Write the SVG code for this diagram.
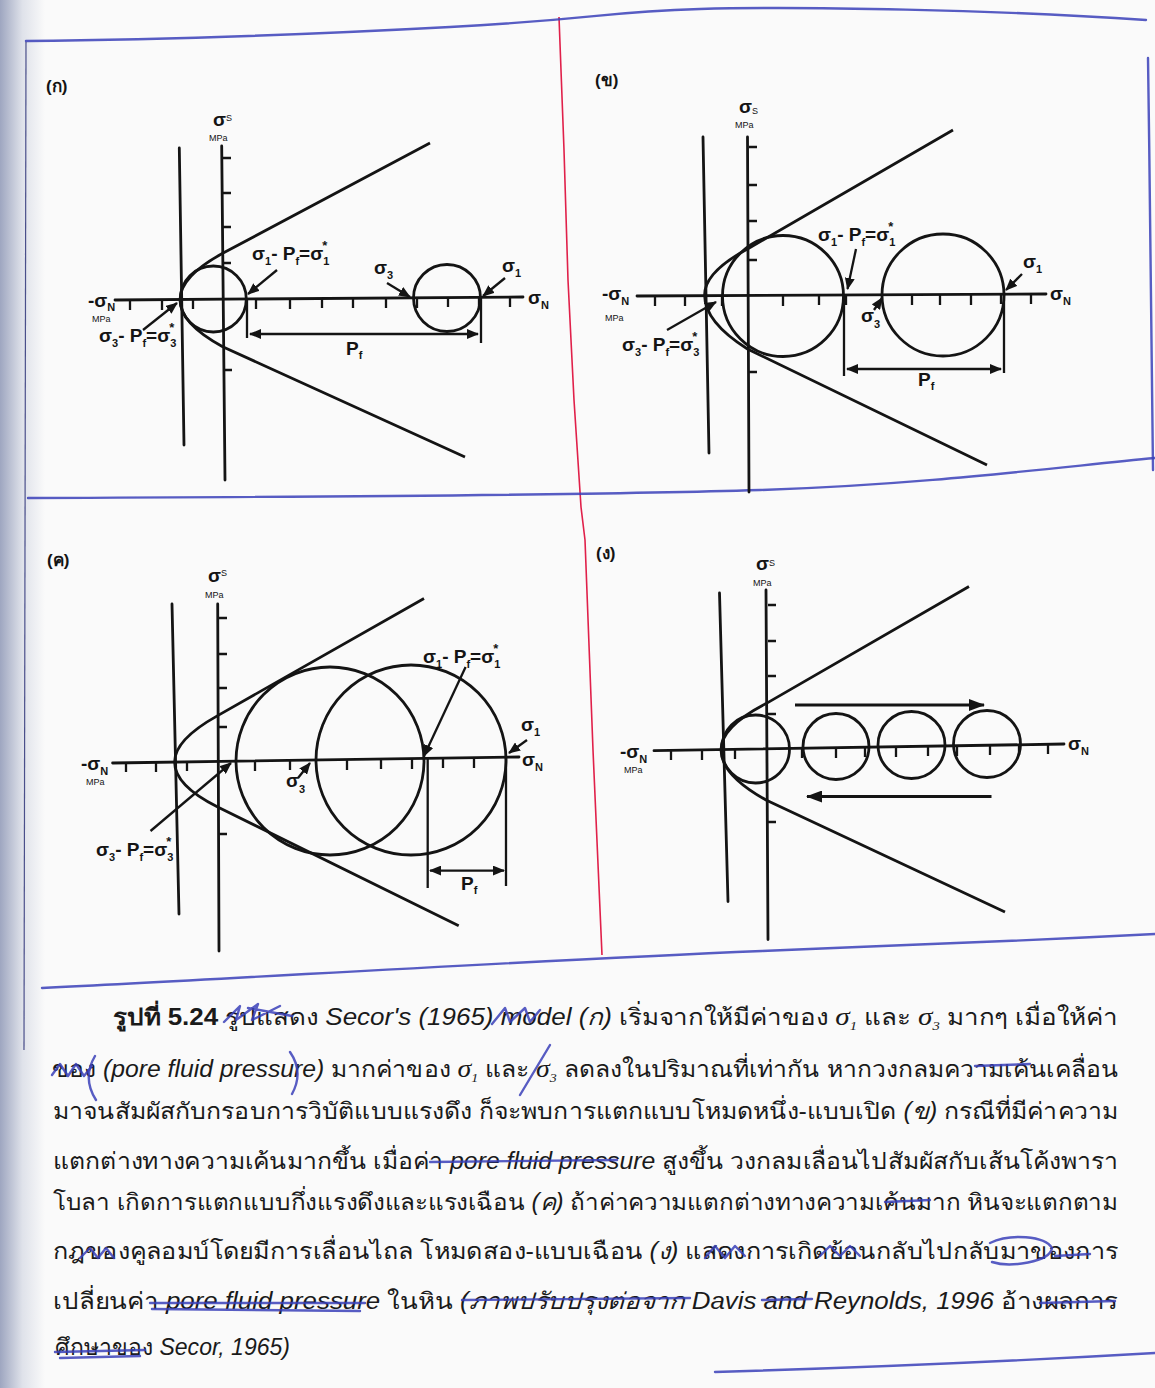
<svg xmlns="http://www.w3.org/2000/svg" width="1155" height="1388" viewBox="0 0 1155 1388">
<defs>
<linearGradient id="edge" x1="0" y1="0" x2="1" y2="0">
<stop offset="0" stop-color="#9ea6c0"/><stop offset="0.5" stop-color="#dfe2ea"/><stop offset="1" stop-color="#fafafa"/>
</linearGradient>
<marker id="ah" viewBox="0 0 12 10" refX="11" refY="5" markerWidth="12" markerHeight="10" markerUnits="userSpaceOnUse" orient="auto-start-reverse"><path d="M0,0 L12,5 L0,10 z" fill="#141414"/></marker>
<marker id="ahb" viewBox="0 0 16 12" refX="15" refY="6" markerWidth="16" markerHeight="12" markerUnits="userSpaceOnUse" orient="auto-start-reverse"><path d="M0,0 L16,6 L0,12 z" fill="#141414"/></marker>
<style>
.ax{stroke:#141414;stroke-width:2.8;fill:none;stroke-linecap:round}
.tk{stroke:#141414;stroke-width:2.3;fill:none}
.c{fill:none;stroke:#141414;stroke-width:2.8}
.ar{stroke:#141414;stroke-width:2.3;fill:none;marker-end:url(#ah)}
.arb{stroke:#141414;stroke-width:2.8;fill:none;marker-end:url(#ahb)}
.dim{stroke:#141414;stroke-width:2.3;fill:none;marker-start:url(#ah);marker-end:url(#ah)}
.s{font-family:"Liberation Sans",Arial,sans-serif;font-weight:bold;font-size:19px;fill:#141414}
.sb{font-size:11px}
.st{font-size:13px}
.mpa{font-family:"Liberation Sans",Arial,sans-serif;font-size:9px;fill:#141414}
.pl{font-family:"Liberation Sans",Arial,sans-serif;font-weight:bold;font-size:17px;fill:#141414}
.cap{font-family:"Liberation Sans","Noto Sans",sans-serif;font-size:23px;fill:#1a1a1a}
.it{font-style:italic}
.gs{font-family:"Liberation Serif",serif;font-style:italic;font-size:26px}
.gsub{font-family:"Liberation Serif",serif;font-style:italic;font-size:13px}
.blue{stroke:#3a40b8;fill:none;stroke-width:2.4;stroke-linecap:round;stroke-linejoin:round;opacity:0.85}
.red{stroke:#e0204a;stroke-width:1.6;fill:none}
</style>
</defs>
<rect width="1155" height="1388" fill="#fafafa"/>
<rect width="45" height="1388" fill="url(#edge)"/>

<g id="pen-marks">
<path class="red" d="M559,17 L564,150 L568,280 L574,400 L581,507 L585,540 L593,750 L602,955"/>
<path class="blue" d="M26,41 C150,40 300,35 450,27 S600,12 700,9 S1000,10 1146,20"/>
<path class="blue" d="M1148,58 C1150,200 1152,350 1153,470"/>
<path class="blue" d="M28,498 C300,497 600,495 760,490 S1050,468 1155,458"/>
<path class="blue" d="M42,988 C250,978 500,962 762,951 S1000,942 1155,934"/>
<path class="blue" d="M715,1372 C850,1368 1000,1362 1155,1353"/>
<path d="M26,42 L24,1050" stroke="#4a4f8a" stroke-width="1.2" fill="none"/>
</g>

<g id="panel-a">
<text class="pl" x="46" y="92">(ก)</text>
<path class="ax" d="M179.3,148 L184,445"/>
<path class="ax" d="M221.7,146 L225,480"/>
<path class="ax" d="M115,300 L523,297"/>
<path class="tk" d="M130,300v10 M162,300v10 M193,299v10 M256,299v10 M290,299v10 M322,298v10 M353,298v10 M386,298v10 M417,298v10 M448,297v10 M479,297v10 M510,297v10"/>
<path class="tk" d="M223,158h8 M223,193h8 M223,227h8 M223,263h8 M224,370h8"/>
<circle class="c" cx="213.3" cy="299" r="33"/>
<circle class="c" cx="447" cy="298" r="33.5"/>
<path class="c" d="M430,143 L222.7,253.3 Q180,276.5 180,300 Q180,323.5 222.7,346.7 L465,457"/>
<path class="ar" d="M277,270 L248,294"/>
<path class="ar" d="M505,278 L483,296"/>
<path class="ar" d="M387,283 L410,297"/>
<path class="ar" d="M143,330 L177,303"/>
<path class="tk" d="M247,300 V338 M481,297 V343"/>
<path class="dim" d="M250,334 L478,334"/>
<text class="s" x="213" y="126">σ</text><text class="mpa" x="226" y="121">S</text><text class="mpa" x="209" y="141">MPa</text>
<text class="s" x="88" y="307">-σ<tspan class="sb" dy="4">N</tspan></text><text class="mpa" x="92" y="322">MPa</text>
<text class="s" x="528" y="304">σ<tspan class="sb" dy="5">N</tspan></text>
<text class="s" x="252" y="260">σ<tspan class="sb" dy="5">1</tspan><tspan dy="-5">- P</tspan><tspan class="sb" dy="5">f</tspan><tspan dy="-5">=σ</tspan><tspan class="sb" dy="5">1</tspan><tspan class="st" dx="-7" dy="-15">*</tspan></text>
<text class="s" x="502" y="272">σ<tspan class="sb" dy="5">1</tspan></text>
<text class="s" x="374" y="274">σ<tspan class="sb" dy="5">3</tspan></text>
<text class="s" x="99" y="342">σ<tspan class="sb" dy="5">3</tspan><tspan dy="-5">- P</tspan><tspan class="sb" dy="5">f</tspan><tspan dy="-5">=σ</tspan><tspan class="sb" dy="5">3</tspan><tspan class="st" dx="-7" dy="-15">*</tspan></text>
<text class="s" x="346" y="355">P<tspan class="sb" dy="4">f</tspan></text>
</g>

<g id="panel-b">
<text class="pl" x="595" y="86">(ข)</text>
<path class="ax" d="M703,137 L709,453"/>
<path class="ax" d="M747.5,137 L749,492"/>
<path class="ax" d="M637,296 L1046,294"/>
<path class="tk" d="M655,296v10 M685,296v10 M722,296v10 M783,296v10 M819,295v10 M846,295v10 M912,295v10 M940,295v10 M971,295v10 M1001,294v10 M1031,294v10"/>
<path class="tk" d="M749,147h8 M749,185h8 M749,221h8 M749,260h8 M749,372h8"/>
<circle class="c" cx="783" cy="296" r="60.5"/>
<circle class="c" cx="943" cy="295" r="61"/>
<path class="c" d="M953,130 L747.5,249 Q704.6,272 704.6,295 Q704.6,322 747.5,349 L987,465"/>
<path class="ar" d="M856,249 L847.5,289"/>
<path class="ar" d="M1022,274 L1006,290"/>
<path class="ar" d="M874,310 L882,298"/>
<path class="ar" d="M667,330 L716,302"/>
<path class="tk" d="M844,296 V376 M1004,295 V373"/>
<path class="dim" d="M847,369 L1001,369"/>
<text class="s" x="739" y="113">σ</text><text class="mpa" x="752" y="114">S</text><text class="mpa" x="735" y="128">MPa</text>
<text class="s" x="602" y="300">-σ<tspan class="sb" dy="5">N</tspan></text><text class="mpa" x="605" y="321">MPa</text>
<text class="s" x="1050" y="300">σ<tspan class="sb" dy="5">N</tspan></text>
<text class="s" x="818" y="241">σ<tspan class="sb" dy="5">1</tspan><tspan dy="-5">- P</tspan><tspan class="sb" dy="5">f</tspan><tspan dy="-5">=σ</tspan><tspan class="sb" dy="5">1</tspan><tspan class="st" dx="-7" dy="-15">*</tspan></text>
<text class="s" x="1023" y="268">σ<tspan class="sb" dy="5">1</tspan></text>
<text class="s" x="861" y="322">σ<tspan class="sb" dy="6">3</tspan></text>
<text class="s" x="622" y="351">σ<tspan class="sb" dy="5">3</tspan><tspan dy="-5">- P</tspan><tspan class="sb" dy="5">f</tspan><tspan dy="-5">=σ</tspan><tspan class="sb" dy="5">3</tspan><tspan class="st" dx="-7" dy="-15">*</tspan></text>
<text class="s" x="918" y="386">P<tspan class="sb" dy="4">f</tspan></text>
</g>

<g id="panel-c">
<text class="pl" x="47" y="566">(ค)</text>
<path class="ax" d="M172,604 L179,914"/>
<path class="ax" d="M217.7,604 L219,951"/>
<path class="ax" d="M112.6,763 L519,757"/>
<path class="tk" d="M126,762v10 M156,762v10 M187,761v10 M255,761v10 M290,760v10 M347,760v10 M381,759v10 M412,759v10 M443,758v10 M474,758v10"/>
<path class="tk" d="M219,618h8 M219,654h8 M219,688h8 M219,727h8 M219,834h8"/>
<circle class="c" cx="330" cy="761" r="94"/>
<circle class="c" cx="411" cy="760" r="95"/>
<path class="c" d="M424,598.5 L217.7,715.6 Q174.6,739.6 174.6,762 Q174.6,785.5 217.7,807 L458.7,925.7"/>
<path class="ar" d="M465.6,667 L424,756"/>
<path class="ar" d="M527,740 L509,753"/>
<path class="ar" d="M298,778 L310,763"/>
<path class="ar" d="M150.5,831 L231,763"/>
<path class="tk" d="M427.7,759 V888 M506,757 V886"/>
<path class="dim" d="M430,870.6 L504,870.6"/>
<text class="s" x="208" y="582">σ</text><text class="mpa" x="221" y="576">S</text><text class="mpa" x="205" y="598">MPa</text>
<text class="s" x="81" y="770">-σ<tspan class="sb" dy="5">N</tspan></text><text class="mpa" x="86" y="785">MPa</text>
<text class="s" x="522" y="766">σ<tspan class="sb" dy="5">N</tspan></text>
<text class="s" x="423" y="663">σ<tspan class="sb" dy="5">1</tspan><tspan dy="-5">- P</tspan><tspan class="sb" dy="5">f</tspan><tspan dy="-5">=σ</tspan><tspan class="sb" dy="5">1</tspan><tspan class="st" dx="-7" dy="-15">*</tspan></text>
<text class="s" x="521" y="731">σ<tspan class="sb" dy="5">1</tspan></text>
<text class="s" x="286" y="787">σ<tspan class="sb" dy="6">3</tspan></text>
<text class="s" x="96" y="856">σ<tspan class="sb" dy="5">3</tspan><tspan dy="-5">- P</tspan><tspan class="sb" dy="5">f</tspan><tspan dy="-5">=σ</tspan><tspan class="sb" dy="5">3</tspan><tspan class="st" dx="-7" dy="-15">*</tspan></text>
<text class="s" x="461" y="890">P<tspan class="sb" dy="4">f</tspan></text>
</g>

<g id="panel-d">
<text class="pl" x="596" y="559">(ง)</text>
<path class="ax" d="M719.5,593 L728,901.5"/>
<path class="ax" d="M766,590 L768,939.5"/>
<path class="ax" d="M654,750.7 L1064,744"/>
<path class="tk" d="M671,750v10 M702,750v10 M735,749v10 M802,748v10 M836,748v10 M865,747v10 M896,747v10 M928,746v10 M957,746v10 M990,745v10 M1019,745v10 M1048,744v10"/>
<path class="tk" d="M768,605h8 M768,641h8 M768,676h8 M768,714h8 M768,822h8"/>
<circle class="c" cx="755.5" cy="749" r="34"/>
<circle class="c" cx="836" cy="746.5" r="33"/>
<circle class="c" cx="911.5" cy="745" r="33.5"/>
<circle class="c" cx="987" cy="744" r="33.5"/>
<path class="c" d="M969,586.5 L766,703.6 Q721,726.8 721,750 Q721,775 766,800 L1005,912"/>
<path class="arb" d="M795,705 L984,705"/>
<path class="arb" d="M991.5,796.5 L807,796.5"/>
<text class="s" x="756" y="570">σ</text><text class="mpa" x="769" y="566">S</text><text class="mpa" x="753" y="586">MPa</text>
<text class="s" x="620" y="758">-σ<tspan class="sb" dy="5">N</tspan></text><text class="mpa" x="624" y="773">MPa</text>
<text class="s" x="1068" y="750">σ<tspan class="sb" dy="5">N</tspan></text>
</g>

<g id="caption" class="cap">
<text x="113" y="1025" textLength="1005" lengthAdjust="spacingAndGlyphs"><tspan font-weight="bold">รูปที่ 5.24</tspan> รูปแสดง <tspan class="it">Secor's (1965) model (ก)</tspan> เริ่มจากให้มีค่าของ <tspan class="gs">σ</tspan><tspan class="gsub" dy="5">1</tspan><tspan dy="-5"> และ </tspan><tspan class="gs">σ</tspan><tspan class="gsub" dy="5">3</tspan><tspan dy="-5"> มากๆ เมื่อให้ค่า</tspan></text>
<text x="52" y="1077" textLength="1066" lengthAdjust="spacingAndGlyphs">ของ <tspan class="it">(pore fluid pressure)</tspan> มากค่าของ <tspan class="gs">σ</tspan><tspan class="gsub" dy="5">1</tspan><tspan dy="-5"> และ </tspan><tspan class="gs">σ</tspan><tspan class="gsub" dy="5">3</tspan><tspan dy="-5"> ลดลงในปริมาณที่เท่ากัน หากวงกลมความเค้นเคลื่อน</tspan></text>
<text x="53" y="1119" textLength="1065" lengthAdjust="spacingAndGlyphs">มาจนสัมผัสกับกรอบการวิบัติแบบแรงดึง ก็จะพบการแตกแบบโหมดหนึ่ง-แบบเปิด <tspan class="it">(ข)</tspan> กรณีที่มีค่าความ</text>
<text x="53" y="1169" textLength="1065" lengthAdjust="spacingAndGlyphs">แตกต่างทางความเค้นมากขึ้น เมื่อค่า <tspan class="it">pore fluid pressure</tspan> สูงขึ้น วงกลมเลื่อนไปสัมผัสกับเส้นโค้งพารา</text>
<text x="53" y="1210" textLength="1065" lengthAdjust="spacingAndGlyphs">โบลา เกิดการแตกแบบกึ่งแรงดึงและแรงเฉือน <tspan class="it">(ค)</tspan> ถ้าค่าความแตกต่างทางความเค้นมาก หินจะแตกตาม</text>
<text x="53" y="1259" textLength="1065" lengthAdjust="spacingAndGlyphs">กฎของคูลอมบ์โดยมีการเลื่อนไถล โหมดสอง-แบบเฉือน  <tspan class="it">(ง)</tspan>  แสดงการเกิดย้อนกลับไปกลับมาของการ</text>
<text x="53" y="1309" textLength="1065" lengthAdjust="spacingAndGlyphs">เปลี่ยนค่า <tspan class="it">pore fluid pressure</tspan> ในหิน <tspan class="it">(ภาพปรับปรุงต่อจาก Davis and Reynolds, 1996</tspan> อ้างผลการ</text>
<text x="55" y="1355" textLength="235" lengthAdjust="spacingAndGlyphs">ศึกษาของ <tspan class="it">Secor, 1965)</tspan></text>
</g>

<g id="caption-pen-marks">
<path class="blue" d="M224,1022 L240,1006 L236,1020 L258,1004 L252,1020 L280,1006 M248,1008 L292,1016"/>
<path class="blue" d="M492,1024 L505,1008 L510,1022 L525,1008 L530,1022 L540,1010"/>
<path class="blue" d="M52,1075 L60,1064 L68,1076 L76,1064 L84,1076 L92,1066"/>
<path class="blue" d="M95,1056 Q82,1078 96,1100 M290,1052 Q304,1072 292,1094"/>
<path class="blue" d="M520,1095 L550,1045"/>
<path class="blue" d="M975,1066 L1030,1064"/>
<path class="blue" d="M430,1162 L617,1160"/>
<path class="blue" d="M885,1202 L930,1200"/>
<path class="blue" d="M80,1258 L90,1248 L98,1258 L106,1248 L114,1258"/>
<path class="blue" d="M705,1258 L715,1246 L725,1258 L735,1246 L745,1256"/>
<path class="blue" d="M820,1256 L830,1246 L840,1256 L850,1246 L860,1256"/>
<path class="blue" d="M990,1243 C1010,1233 1045,1236 1052,1248 C1050,1262 1010,1268 992,1262"/>
<path class="blue" d="M1055,1256 L1090,1254"/>
<path class="blue" d="M150,1303 L365,1303 M152,1309 L360,1311"/>
<path class="blue" d="M462,1300 L690,1298"/>
<path class="blue" d="M762,1300 L812,1299"/>
<path class="blue" d="M1040,1303 L1115,1301"/>
<path class="blue" d="M55,1352 L145,1350 M60,1358 L140,1356"/>
</g>
</svg>
